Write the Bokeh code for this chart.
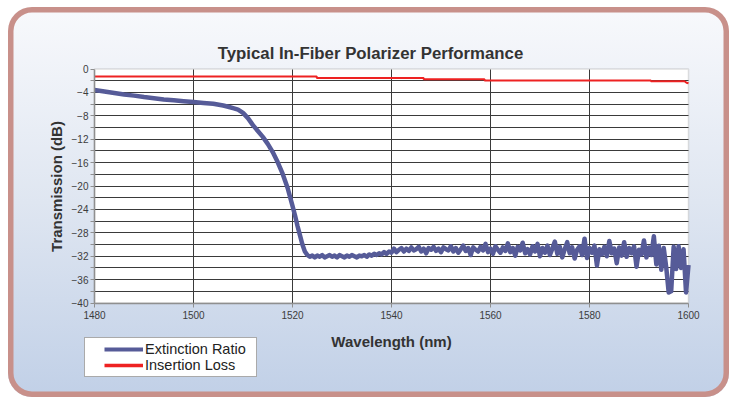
import math
from bokeh.plotting import figure
from bokeh.models import Range1d, FixedTicker, Legend, LegendItem, BoxAnnotation, Label, Grid
from bokeh.embed import file_html
from bokeh.resources import INLINE

# ---------------- data ----------------
title_text = "Typical In-Fiber Polarizer Performance"
x_label = "Wavelength (nm)"
y_label = "Transmission (dB)"
series_names = ["Extinction Ratio", "Insertion Loss"]

x_min, x_max = 1480, 1600
y_min, y_max = -40, 0
x_ticks = [1480, 1500, 1520, 1540, 1560, 1580, 1600]
y_ticks = [0, -4, -8, -12, -16, -20, -24, -28, -32, -36, -40]
y_minor = [-2, -6, -10, -14, -18, -22, -26, -30, -34, -38]

# Extinction ratio: smooth roll-off part
er_wl_a = [1480, 1482, 1484, 1486, 1488, 1490, 1492, 1494, 1496, 1498, 1500,
           1502, 1504, 1506, 1507, 1508, 1509, 1510, 1511, 1512, 1513, 1514,
           1515, 1516, 1517, 1518, 1519, 1520, 1520.5, 1521, 1521.5, 1522, 1522.5]
er_db_a = [-3.6, -3.85, -4.1, -4.35, -4.55, -4.8, -5.0, -5.2, -5.35, -5.5, -5.65,
           -5.8, -5.95, -6.25, -6.45, -6.7, -6.95, -7.5, -8.4, -9.6, -10.6, -11.6,
           -12.8, -14.2, -15.9, -17.9, -20.3, -23.4, -25.0, -26.8, -28.4, -30.0, -31.2]

# Extinction ratio: noisy floor, sampled every 0.5 nm
er_wl_b = [1523.0, 1523.5, 1524.0, 1524.5, 1525.0, 1525.5, 1526.0, 1526.5, 1527.0, 1527.5,
           1528.0, 1528.5, 1529.0, 1529.5, 1530.0, 1530.5, 1531.0, 1531.5, 1532.0, 1532.5,
           1533.0, 1533.5, 1534.0, 1534.5, 1535.0, 1535.5, 1536.0, 1536.5, 1537.0, 1537.5,
           1538.0, 1538.5, 1539.0, 1539.5, 1540.0, 1540.5, 1541.0, 1541.5, 1542.0, 1542.5,
           1543.0, 1543.5, 1544.0, 1544.5, 1545.0, 1545.5, 1546.0, 1546.5, 1547.0, 1547.5,
           1548.0, 1548.5, 1549.0, 1549.5, 1550.0, 1550.5, 1551.0, 1551.5, 1552.0, 1552.5,
           1553.0, 1553.5, 1554.0, 1554.5, 1555.0, 1555.5, 1556.0, 1556.5, 1557.0, 1557.5,
           1558.0, 1558.5, 1559.0, 1559.5, 1560.0, 1560.5, 1561.0, 1561.5, 1562.0, 1562.5,
           1563.0, 1563.5, 1564.0, 1564.5, 1565.0, 1565.5, 1566.0, 1566.5, 1567.0, 1567.5,
           1568.0, 1568.5, 1569.0, 1569.5, 1570.0, 1570.5, 1571.0, 1571.5, 1572.0, 1572.5,
           1573.0, 1573.5, 1574.0, 1574.5, 1575.0, 1575.5, 1576.0, 1576.5, 1577.0, 1577.5,
           1578.0, 1578.5, 1579.0, 1579.5, 1580.0, 1580.5, 1581.0, 1581.5, 1582.0, 1582.5,
           1583.0, 1583.5, 1584.0, 1584.5, 1585.0, 1585.5, 1586.0, 1586.5, 1587.0, 1587.5,
           1588.0, 1588.5, 1589.0, 1589.5, 1590.0, 1590.5, 1591.0, 1591.5, 1592.0, 1592.5,
           1593.0, 1593.5, 1594.0, 1594.5, 1595.0, 1595.5, 1596.0, 1596.5, 1597.0, 1597.5,
           1598.0, 1598.5, 1599.0, 1599.5, 1600.0]
er_db_b = [-31.8, -32.1, -31.9, -32.2, -31.9, -32.1, -31.8, -32.2, -32.0, -31.8,
           -32.1, -31.9, -32.2, -31.8, -32.0, -32.2, -31.9, -32.1, -31.8, -32.0,
           -32.2, -31.9, -32.0, -31.8, -32.1, -31.7, -31.9, -31.6, -31.8, -31.5,
           -31.7, -31.3, -31.6, -31.2, -31.4, -30.7, -31.3, -30.9, -30.6, -31.2,
           -30.7, -31.1, -30.5, -31.0, -30.8, -30.4, -31.2, -30.7, -31.5, -30.6,
           -30.9, -30.4, -31.1, -30.7, -31.3, -30.5, -30.8, -31.0, -30.3, -31.2,
           -30.6, -31.4, -30.8, -30.2, -31.1, -30.6, -31.8, -30.5, -30.9, -31.2,
           -30.4, -31.0, -29.9, -31.3, -30.7, -31.6, -30.3, -30.9, -31.4, -30.5,
           -31.1, -29.8, -31.3, -30.6, -31.9, -30.4, -31.0, -29.7, -31.5, -30.8,
           -31.7, -30.3, -31.2, -29.9, -32.0, -30.6, -31.4, -30.2, -31.8, -30.7,
           -29.5, -31.6, -30.4, -32.2, -30.8, -29.6, -31.5, -30.5, -32.4, -30.9,
           -30.3, -31.8, -29.0, -32.3, -30.6, -31.4, -30.2, -33.6, -30.8, -31.7,
           -30.4, -32.0, -29.4, -31.5, -30.7, -33.2, -30.5, -31.9, -29.6, -32.1,
           -30.6, -31.5, -30.3, -33.8, -30.9, -31.7, -29.3, -32.2, -30.5, -31.8,
           -28.6, -33.4, -30.2, -34.3, -30.6, -33.9, -38.2, -38.0, -30.4, -34.2,
           -30.3, -34.0, -30.8, -38.2, -33.5]

er_wl = er_wl_a + er_wl_b
er_db = er_db_a + er_db_b

# Insertion loss (step-like trace)
il_wl = [1480, 1524.9, 1524.9, 1546.5, 1546.5, 1558.8, 1558.8, 1592.4, 1592.4, 1599.2, 1599.6, 1600]
il_db = [-1.3, -1.3, -1.55, -1.55, -1.75, -1.75, -1.95, -1.95, -2.1, -2.1, -2.35, -2.45]

# ---------------- layout (pixels inside the figure) ----------------
W, H = 721, 390
PA_L, PA_R, PA_T, PA_B = 86.0, 680.0, 61.5, 295.5     # plot-area edges
sx = (PA_R - PA_L) / (x_max - x_min)
sy = (PA_B - PA_T) / (y_max - y_min)
xr = Range1d(x_min - PA_L / sx, x_max + (W - PA_R) / sx)
yr = Range1d(y_min - (H - PA_B) / sy, y_max + PA_T / sy)

FONT = "Liberation Sans"
p = figure(width=W, height=H, x_range=xr, y_range=yr, title=None,
           output_backend="svg", toolbar_location=None,
           min_border_left=0, min_border_right=0, min_border_top=0, min_border_bottom=0)
p.styles = {
    "background": "linear-gradient(to bottom, #f8f9fc 0%, #dfe6f1 50%, #c1d0e7 100%)",
    "border-radius": "24px",
    "box-shadow": "inset 0 0 0 5.5px #c8908a",
    "margin-left": "8px",
    "margin-top": "7px",
}
p.border_fill_color = None
p.background_fill_color = None
p.outline_line_color = None

# white plot area with grey outline
p.add_layout(BoxAnnotation(left=x_min, right=x_max, bottom=y_min, top=y_max,
                           fill_color="white", fill_alpha=1.0,
                           line_color="#999999", line_width=1.5, level="image"))

# axes fixed at the plot-area edges
for ax in (p.xaxis[0], p.yaxis[0]):
    ax.axis_line_color = "#8f8f8f"
    ax.axis_line_width = 1.5
    ax.major_tick_line_color = "#8f8f8f"
    ax.minor_tick_line_color = "#8f8f8f"
    ax.major_label_text_font = FONT
    ax.major_label_text_font_size = "10px"
    ax.major_label_text_color = "#3c3c3c"
    ax.major_tick_in = 0
    ax.major_tick_out = 4
    ax.minor_tick_in = 0
    ax.axis_label_text_font = FONT
    ax.axis_label_text_font_size = "15px"
    ax.axis_label_text_font_style = "bold"
    ax.axis_label_text_color = "#333333"

p.xaxis.fixed_location = y_min
p.xaxis.bounds = (x_min, x_max)
p.xaxis.ticker = FixedTicker(ticks=x_ticks)
p.xaxis.minor_tick_out = 0
p.xaxis.major_label_standoff = 4
p.xaxis.axis_label = x_label
p.xaxis.axis_label_standoff = 10

p.yaxis.fixed_location = x_min
p.yaxis.bounds = (y_min, y_max)
p.yaxis.ticker = FixedTicker(ticks=y_ticks, minor_ticks=y_minor)
p.yaxis.minor_tick_out = 4
p.yaxis.major_label_standoff = 2
p.yaxis.axis_label = y_label
p.yaxis.axis_label_standoff = 4

# grid lines restricted to the plot area
grid_color = "#3a3a3a"
xg_ticks = x_ticks[1:-1]
yg_ticks = sorted(y_ticks[1:-1] + y_minor)
if "cross_bounds" in Grid.properties():
    p.xgrid.ticker = FixedTicker(ticks=xg_ticks)
    p.ygrid.ticker = FixedTicker(ticks=yg_ticks)
    p.xgrid.bounds = (x_min, x_max)
    p.ygrid.bounds = (y_min, y_max)
    p.xgrid.cross_bounds = (y_min, y_max)
    p.ygrid.cross_bounds = (x_min, x_max)
    for g in (p.xgrid[0], p.ygrid[0]):
        g.grid_line_color = grid_color
        g.grid_line_width = 1
else:
    p.xgrid.visible = False
    p.ygrid.visible = False
    p.segment(x0=xg_ticks, x1=xg_ticks, y0=[y_min] * len(xg_ticks), y1=[y_max] * len(xg_ticks),
              line_color=grid_color, line_width=1, level="underlay")
    p.segment(x0=[x_min] * len(yg_ticks), x1=[x_max] * len(yg_ticks), y0=yg_ticks, y1=yg_ticks,
              line_color=grid_color, line_width=1, level="underlay")

# data lines
er_color = "#565b98"
il_color = "#ee2222"
r_il = p.line(il_wl, il_db, line_color=il_color, line_width=2)
r_er = p.line(er_wl, er_db, line_color=er_color, line_width=4.5, line_join="round")

# title
p.add_layout(Label(x=362, y=46.3, x_units="canvas", y_units="canvas", text=title_text,
                   text_font=FONT, text_font_size="16.8px", text_font_style="bold",
                   text_color="#333333", text_align="center", text_baseline="alphabetic"))

# legend: single-point proxies (draw nothing in the plot) styled as gap-then-line
lg_er = p.line([er_wl[0]], [er_db[0]], line_color=er_color, line_width=4,
               line_dash="39 16", line_dash_offset=39)
lg_il = p.line([il_wl[0]], [il_db[0]], line_color=il_color, line_width=3.3,
               line_dash="39 16", line_dash_offset=39)
legend = Legend(items=[LegendItem(label=series_names[0], renderers=[lg_er]),
                       LegendItem(label=series_names[1], renderers=[lg_il])],
                location=(76, 20), orientation="vertical",
                padding=3, margin=0, spacing=0,
                border_line_color="#555555", border_line_width=1.2,
                background_fill_color="white", background_fill_alpha=1.0,
                glyph_width=55, glyph_height=14, label_height=14, label_width=108,
                label_standoff=2, label_text_font=FONT, label_text_font_size="14.5px",
                label_text_color="#222222")
p.add_layout(legend, "center")

open("out.html", "w").write(file_html(p, INLINE))
